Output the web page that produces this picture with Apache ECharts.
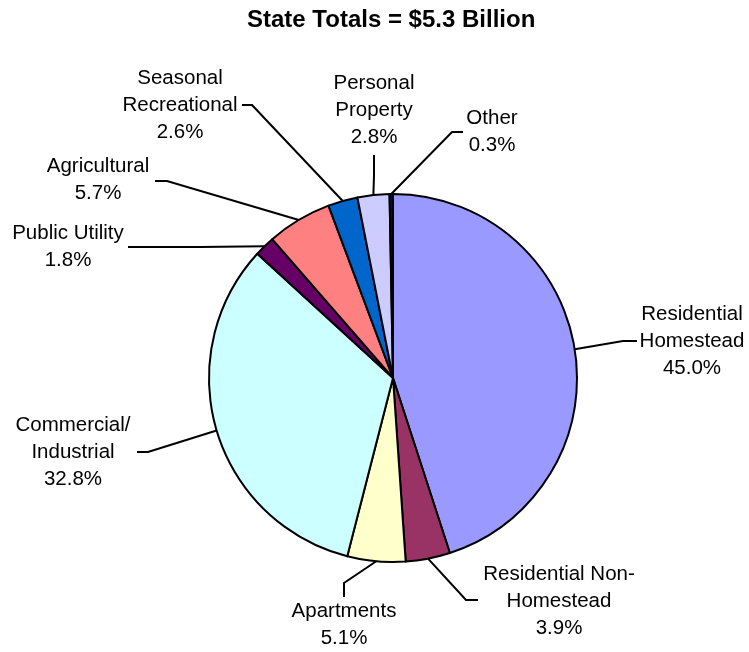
<!DOCTYPE html>
<html>
<head>
<meta charset="utf-8">
<script src="https://cdn.jsdelivr.net/npm/echarts@6/dist/echarts.min.js"></script>
<style>
  html, body { margin: 0; padding: 0; background: #fff; }
  #chart { width: 749px; height: 652px; }
</style>
</head>
<body>
<div id="chart"></div>
<script>
// Property tax shares by class, clockwise from 12 o'clock
const categories = [
  'Residential\nHomestead',
  'Residential Non-\nHomestead',
  'Apartments',
  'Commercial/\nIndustrial',
  'Public Utility',
  'Agricultural',
  'Seasonal\nRecreational',
  'Personal\nProperty',
  'Other'
];
const shares = [45.0, 3.9, 5.1, 32.8, 1.8, 5.7, 2.6, 2.8, 0.3];
const titleText = 'State Totals = $5.3 Billion';

// Slice fills
const sliceColors = ['#9999FF', '#993366', '#FFFFCC', '#CCFFFF', '#660066',
                     '#FF8080', '#0066CC', '#CCCCFF', '#000080'];

// Where each label's text sits (centre of the block) and where its leader bends and ends
const labelSpots = [
  { at: [692, 341], bend: [623, 341], end: [637, 341] },
  { at: [559, 601], bend: [466, 600], end: [478, 600] },
  { at: [344, 625], bend: [344, 583], end: [344, 597] },
  { at: [73, 452],  bend: [148, 452], end: [137, 452] },
  { at: [68, 247],  bend: [200, 247], end: [128, 247] },
  { at: [98, 180],  bend: [167, 181], end: [155, 181] },
  { at: [180, 105], bend: [252, 105], end: [242, 105] },
  { at: [374, 110], bend: [374, 175], end: [374, 155] },
  { at: [492, 132], bend: [452, 132], end: [463, 132] }
];

const fontFamily = '"Liberation Sans", Arial, Helvetica, sans-serif';

const chart = echarts.init(document.getElementById('chart'), null, { renderer: 'canvas' });

chart.setOption({
  backgroundColor: '#ffffff',
  animation: false,
  title: {
    text: titleText,
    left: 242,
    top: 3,
    textStyle: { fontFamily, fontSize: 24, fontWeight: 'bold', color: '#000' }
  },
  series: [{
    type: 'pie',
    center: [393, 378],
    radius: 184,
    startAngle: 90,
    clockwise: true,
    avoidLabelOverlap: false,
    emphasis: { disabled: true },
    itemStyle: { borderColor: '#000', borderWidth: 2 },
    label: {
      show: true,
      position: 'outside',
      color: '#000',
      fontFamily,
      fontSize: 20.5,
      lineHeight: 27,
      align: 'center',
      formatter: p => p.name + '\n' + p.value.toFixed(1) + '%'
    },
    labelLine: {
      show: true,
      length: 10,
      length2: 10,
      lineStyle: { color: '#000', width: 2 }
    },
    labelLayout: function (params) {
      const spot = labelSpots[params.dataIndex];
      const start = params.labelLinePoints[0];
      return {
        x: spot.at[0],
        y: spot.at[1],
        align: 'center',
        verticalAlign: 'middle',
        labelLinePoints: [start, spot.bend, spot.end]
      };
    },
    data: categories.map((name, i) => ({
      name,
      value: shares[i],
      itemStyle: { color: sliceColors[i] }
    }))
  }]
});
</script>
</body>
</html>
